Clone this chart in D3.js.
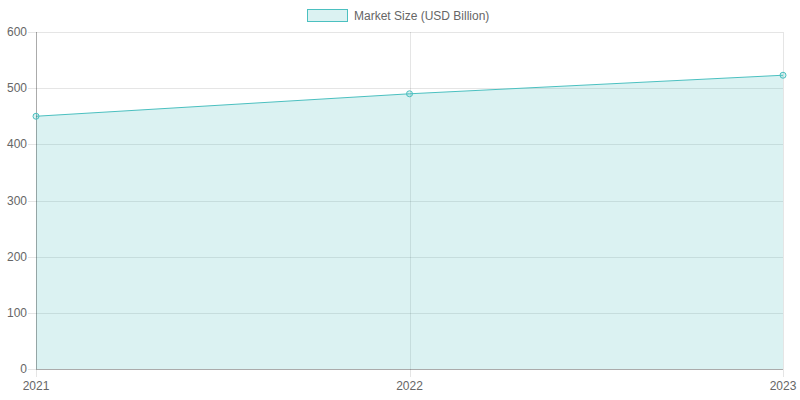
<!DOCTYPE html>
<html>
<head>
<meta charset="utf-8">
<script src="https://cdn.jsdelivr.net/npm/d3@7"></script>
<style>
  body { margin: 0; background: #fff; }
  text { font-family: "Liberation Sans", Arial, sans-serif; font-size: 12px; fill: #666; }
</style>
</head>
<body>
<div id="container"></div>
<script>
/* DATA */
const years = ["2021", "2022", "2023"];
const marketSize = [450, 490, 523];
const yTicks = [0, 100, 200, 300, 400, 500, 600];
const seriesLabel = "Market Size (USD Billion)";

/* CONSTANTS */
const width = 800,
  height = 400,
  margin = { top: 32, bottom: 31, left: 36, right: 17 };

const svg = d3.select("#container")
  .append("svg")
  .attr("width", width)
  .attr("height", height);

// SCALES
const x = d3.scalePoint()
  .domain(years)
  .range([margin.left, width - margin.right]);

const y = d3.scaleLinear()
  .domain([0, 600])
  .range([height - margin.bottom, margin.top]);

const grid = "rgba(0,0,0,0.1)";

// horizontal gridlines + tick marks
svg.append("g")
  .selectAll("line")
  .data(yTicks)
  .join("line")
  .attr("x1", margin.left - 8)
  .attr("x2", width - margin.right)
  .attr("y1", d => Math.round(y(d)) + 0.5)
  .attr("y2", d => Math.round(y(d)) + 0.5)
  .attr("stroke", grid);

// vertical gridlines + tick marks
svg.append("g")
  .selectAll("line")
  .data(years)
  .join("line")
  .attr("x1", d => Math.round(x(d)) + 0.5)
  .attr("x2", d => Math.round(x(d)) + 0.5)
  .attr("y1", margin.top)
  .attr("y2", height - margin.bottom + 8)
  .attr("stroke", grid);

// AREA + LINE
const area = d3.area()
  .x((d, i) => x(years[i]))
  .y0(y(0))
  .y1(d => y(d));

const line = d3.line()
  .x((d, i) => x(years[i]))
  .y(d => y(d));

svg.append("path")
  .datum(marketSize)
  .attr("d", area)
  .attr("fill", "rgba(75,192,192,0.2)");

svg.append("path")
  .datum(marketSize)
  .attr("d", line)
  .attr("fill", "none")
  .attr("stroke", "rgb(75,192,192)")
  .attr("stroke-width", 1);

// axis lines
svg.append("line")
  .attr("x1", margin.left + 0.5).attr("x2", margin.left + 0.5)
  .attr("y1", margin.top).attr("y2", height - margin.bottom)
  .attr("stroke", "rgba(0,0,0,0.25)");

svg.append("line")
  .attr("x1", margin.left).attr("x2", width - margin.right)
  .attr("y1", Math.round(y(0)) + 0.5).attr("y2", Math.round(y(0)) + 0.5)
  .attr("stroke", "rgba(0,0,0,0.25)");

// points
svg.append("g")
  .selectAll("circle")
  .data(marketSize)
  .join("circle")
  .attr("cx", (d, i) => x(years[i]))
  .attr("cy", d => y(d))
  .attr("r", 3)
  .attr("fill", "rgba(75,192,192,0.2)")
  .attr("stroke", "rgb(75,192,192)")
  .attr("stroke-width", 1);

// tick labels
svg.append("g")
  .selectAll("text")
  .data(yTicks)
  .join("text")
  .attr("x", margin.left - 9)
  .attr("y", d => y(d) + 4)
  .attr("text-anchor", "end")
  .text(d => d);

svg.append("g")
  .selectAll("text")
  .data(years)
  .join("text")
  .attr("x", d => x(d))
  .attr("y", height - margin.bottom + 21)
  .attr("text-anchor", "middle")
  .text(d => d);

// legend
const legend = svg.append("g").attr("class", "legend");
legend.append("rect")
  .attr("x", 307.5).attr("y", 9.5)
  .attr("width", 40).attr("height", 12)
  .attr("fill", "rgba(75,192,192,0.2)")
  .attr("stroke", "rgb(75,192,192)");
legend.append("text")
  .attr("x", 354)
  .attr("y", 20)
  .text(seriesLabel);
</script>
</body>
</html>
